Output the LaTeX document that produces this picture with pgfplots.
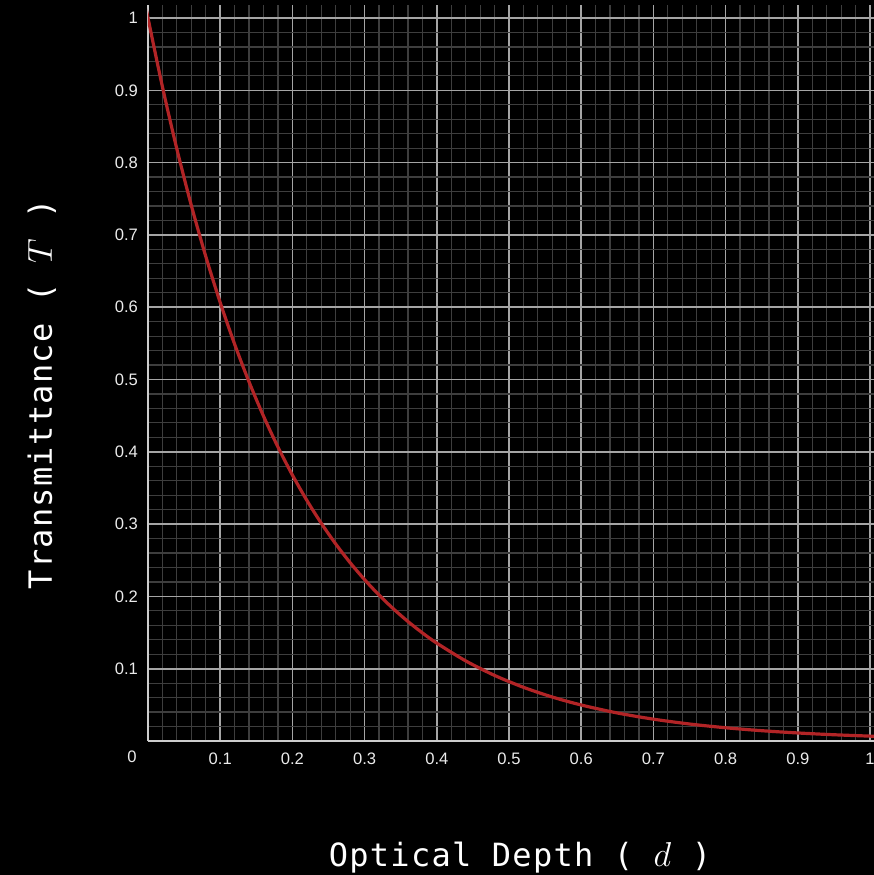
\documentclass[border=0pt]{standalone}
\usepackage{pgfplots}
\pgfplotsset{compat=1.18}
\usepackage{fontspec}
\setmainfont{Liberation Sans}
\newfontfamily\monofont[LetterSpace=4]{DejaVu Sans Mono}
\definecolor{majgrid}{RGB}{165,165,165}
\definecolor{mingrid}{RGB}{62,62,62}
\definecolor{axline}{RGB}{205,205,205}
\definecolor{curve}{RGB}{178,36,38}
\definecolor{ticktext}{RGB}{235,235,235}
\begin{document}
\begin{tikzpicture}
\path[use as bounding box, fill=black] (-74pt,-67pt) rectangle (363pt,370.5pt);
\begin{axis}[
  at={(0,0)}, anchor=south west,
  scale only axis,
  width=363pt, height=368pt,
  xmin=0, xmax=1.0055, ymin=0, ymax=1.018,
  axis lines*=left,
  axis line style={draw=axline, line width=1pt, -},
  xtick={0.1,0.2,0.3,0.4,0.5,0.6,0.7,0.8,0.9,1},
  ytick={0.1,0.2,0.3,0.4,0.5,0.6,0.7,0.8,0.9,1},
  xticklabels={0.1,0.2,0.3,0.4,0.5,0.6,0.7,0.8,0.9,1},
  yticklabels={0.1,0.2,0.3,0.4,0.5,0.6,0.7,0.8,0.9,1},
  minor xtick={0.02,0.04,0.06,0.08,0.12,0.14,0.16,0.18,0.22,0.24,0.26,0.28,0.32,0.34,0.36,0.38,0.42,0.44,0.46,0.48,0.52,0.54,0.56,0.58,0.62,0.64,0.66,0.68,0.72,0.74,0.76,0.78,0.82,0.84,0.86,0.88,0.92,0.94,0.96,0.98},
  minor ytick={0.02,0.04,0.06,0.08,0.12,0.14,0.16,0.18,0.22,0.24,0.26,0.28,0.32,0.34,0.36,0.38,0.42,0.44,0.46,0.48,0.52,0.54,0.56,0.58,0.62,0.64,0.66,0.68,0.72,0.74,0.76,0.78,0.82,0.84,0.86,0.88,0.92,0.94,0.96,0.98},
  grid=both,
  major grid style={draw=majgrid, line width=0.8pt},
  minor grid style={draw=mingrid, line width=0.6pt},
  major tick length=0pt, minor tick length=0pt,
  tick style={draw=none},
  ticklabel style={font=\fontsize{8.3pt}{10pt}\selectfont, text=ticktext},
  xticklabel style={yshift=-2.5pt},
  yticklabel style={xshift=-1.5pt},
  /pgf/number format/assume math mode=true,
  clip=true,
]
\addplot[curve, line width=1.6pt, smooth] coordinates {
(-0.01,1.0513) (0,1) (0.02,0.904837) (0.04,0.818731) (0.06,0.740818) (0.08,0.670320)
(0.10,0.606531) (0.12,0.548812) (0.14,0.496585) (0.16,0.449329) (0.18,0.406570)
(0.20,0.367879) (0.22,0.332871) (0.24,0.301194) (0.26,0.272532) (0.28,0.246597)
(0.30,0.223130) (0.32,0.201897) (0.34,0.182684) (0.36,0.165299) (0.38,0.149569)
(0.40,0.135335) (0.44,0.110803) (0.48,0.090718) (0.52,0.074274) (0.56,0.060810)
(0.60,0.049787) (0.65,0.038774) (0.70,0.030197) (0.75,0.023518) (0.80,0.018316)
(0.85,0.014264) (0.90,0.011109) (0.95,0.008652) (1.00,0.006738) (1.01,0.006409)
};
\end{axis}
\node[text=ticktext, font=\fontsize{8.3pt}{10pt}\selectfont] at (-8pt,-8pt) {0};
\node[text=white, font=\monofont\fontsize{16pt}{19pt}\selectfont, anchor=base] at (186pt,-62.5pt) {Optical Depth ( $d$ )};
\node[text=white, font=\monofont\fontsize{16pt}{19pt}\selectfont, anchor=base, rotate=90] at (-48pt,173.5pt) {Transmittance ( $T$ )};
\end{tikzpicture}
\end{document}
